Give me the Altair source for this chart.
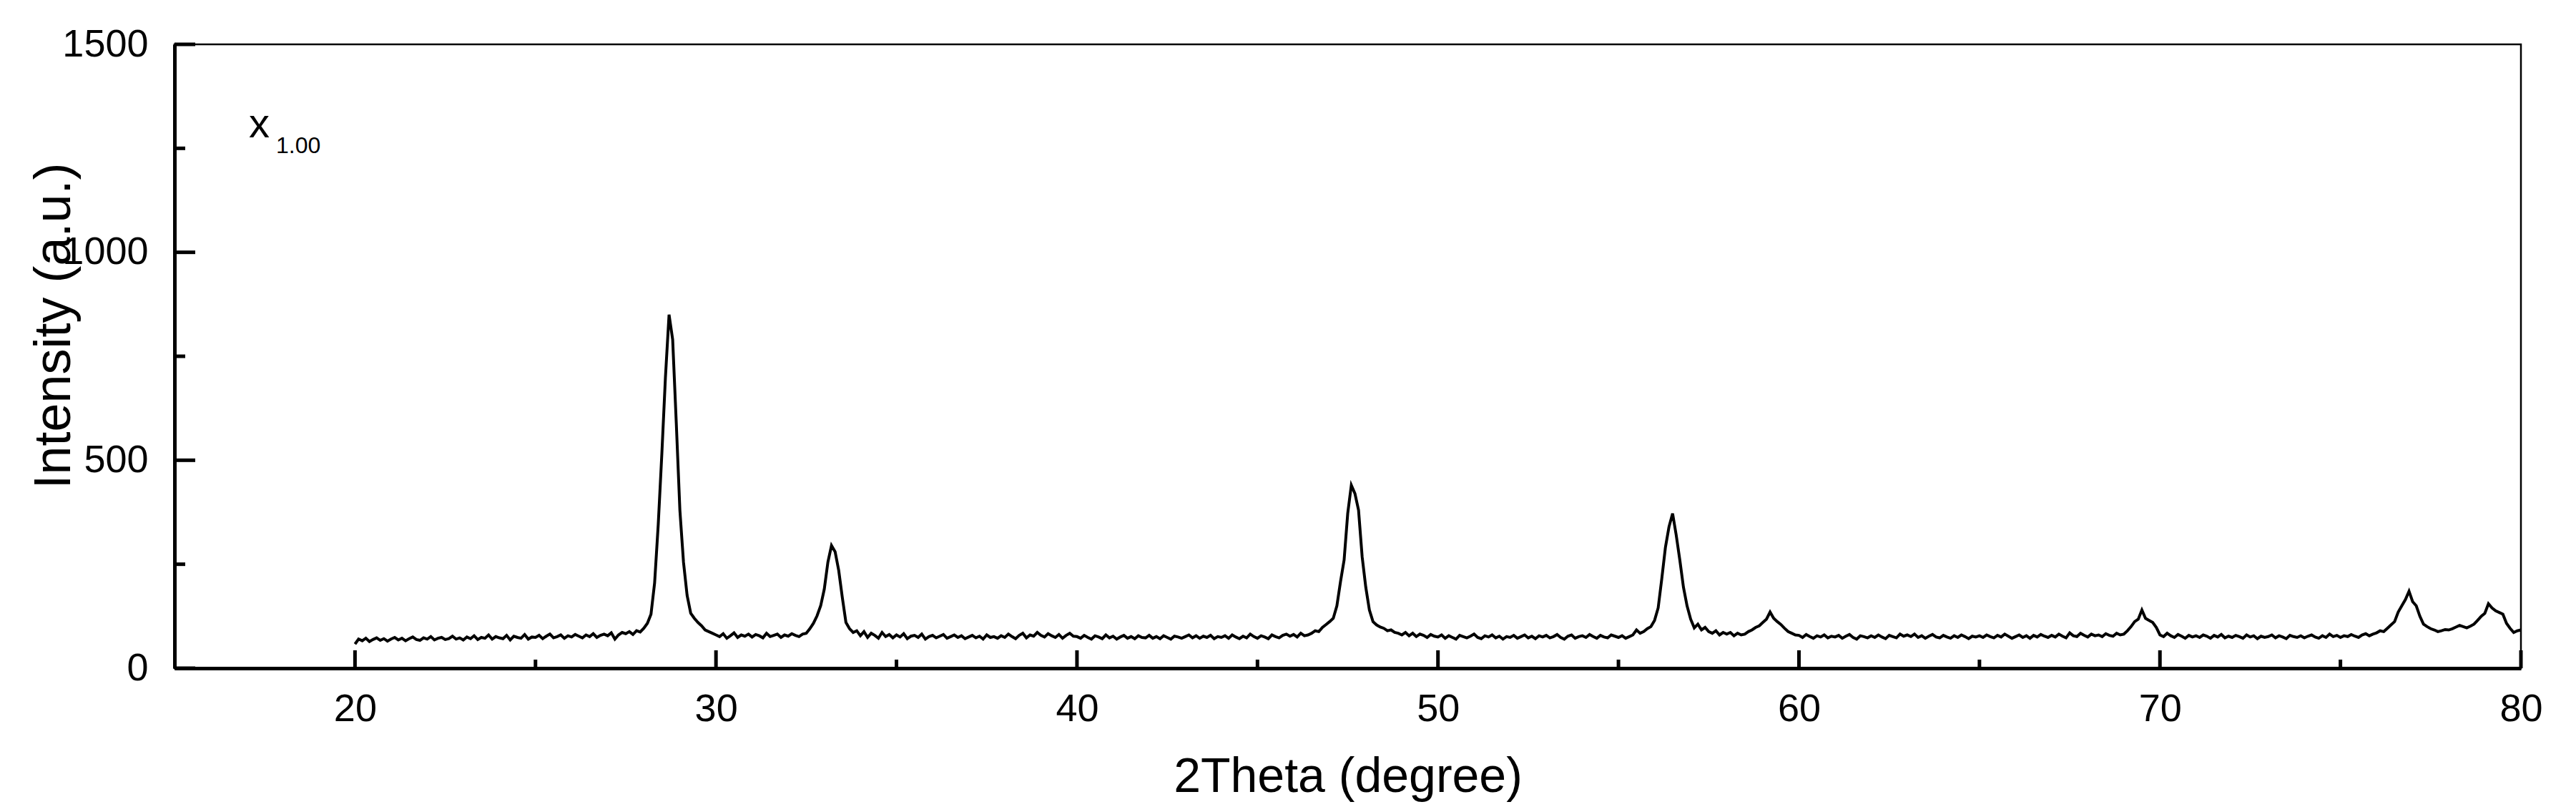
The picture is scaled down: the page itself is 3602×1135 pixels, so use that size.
import altair as alt
import pandas as pd

i20 = [58, 70, 66, 72, 64, 69, 73, 67, 71, 65,
       70, 74, 68, 72, 66, 71, 75, 69, 67, 73,
       70, 76, 68, 72, 74, 69, 71, 77, 70, 73,
       68, 75, 71, 78, 69, 74, 72, 80, 70, 76,
       73, 71, 79, 68, 77, 74, 72, 81, 70, 75,
       74, 79, 71, 77, 82, 73, 76, 80, 72, 78,
       75, 81, 77, 73, 80, 76, 83, 74, 79, 82,
       78, 85, 70, 80, 86, 83, 88, 81, 90, 87,
       96, 108, 130, 205, 345, 515, 700, 850, 790, 590,
       380, 255, 175, 132, 120, 110, 102, 92, 88, 84]
i30 = [80, 76, 83, 72, 78, 85, 74, 80, 77, 82,
       75, 81, 78, 73, 84, 76, 79, 82, 74, 80,
       77, 83, 79, 76, 82, 84, 95, 108, 126, 150,
       190, 255, 295, 280, 235, 170, 110, 95, 86, 90,
       78, 88, 74, 84, 79, 72, 86, 76, 81, 73,
       80, 75, 83, 71, 77, 79, 74, 82, 70, 76,
       79, 73, 77, 81, 72, 76, 80, 74, 78, 71,
       75, 79, 73, 77, 70, 80, 74, 76, 72, 78,
       74, 82, 76, 71, 79, 84, 73, 80, 77, 86,
       79, 75, 83, 78, 74, 81, 72, 79, 84, 77]
i40 = [76, 72, 79, 74, 70, 78, 75, 71, 80, 73,
       77, 70, 75, 79, 72, 76, 71, 78, 74, 73,
       79, 72, 76, 71, 78, 74, 70, 77, 75, 72,
       76, 80, 73, 78, 72, 77, 74, 79, 71, 76,
       74, 78, 72, 80, 75, 71, 77, 73, 82, 76,
       72, 78, 75, 71, 80, 76, 73, 79, 82, 77,
       81, 75, 84, 78, 80, 84, 90, 88, 98, 105,
       112, 120, 150, 208, 260, 372, 440, 420, 380, 268,
       195, 140, 112, 104, 99, 96, 90, 92, 86, 84,
       80, 86, 78, 84, 76, 82, 79, 74, 81, 77]
i50 = [75, 80, 72, 78, 74, 70, 79, 76, 73, 77,
       82, 74, 71, 78, 75, 80, 73, 77, 70, 76,
       74, 79, 72, 76, 80, 73, 77, 71, 78, 75,
       79, 73, 76, 81, 74, 70, 77, 80, 72, 76,
       78, 74, 81, 76, 72, 79, 75, 73, 80, 77,
       74, 78, 72, 76, 80, 92, 84, 88, 95, 100,
       115, 145, 215, 290, 340, 372, 320, 260, 195, 150,
       118, 97, 106, 92, 98, 88, 84, 90, 80, 86,
       82, 86, 78, 84, 80, 82, 88, 92, 98, 102,
       110, 118, 135, 120, 112, 105, 96, 88, 84, 80]
i60 = [79, 74, 81, 76, 72, 78, 75, 80, 73, 77,
       75, 79, 72, 77, 81, 74, 70, 78, 76, 73,
       78, 74, 80, 75, 71, 79, 76, 73, 82, 77,
       80, 76, 82, 74, 78, 72, 77, 81, 75, 73,
       79, 75, 72, 78, 74, 80, 76, 71, 77, 75,
       78, 74, 80, 76, 73, 79, 75, 82, 77, 72,
       76, 80, 74, 78, 72, 79, 75, 81, 77, 74,
       79, 75, 82, 77, 73, 85, 78, 76, 84, 79,
       75, 82, 78, 80, 76, 83, 79, 77, 84, 80,
       82, 90, 100, 112, 118, 140, 120, 115, 110, 98]
i70 = [80, 76, 84, 78, 74, 81, 77, 72, 79, 75,
       78, 74, 80, 77, 72, 79, 75, 81, 73, 77,
       74, 79, 76, 72, 80, 75, 78, 71, 77, 74,
       76, 80, 73, 78, 75, 71, 79, 76, 74, 78,
       73, 77, 80, 75, 72, 78, 74, 82, 76, 79,
       74, 78, 76, 81, 77, 74, 80, 83, 78, 82,
       85, 90, 88, 96, 104, 112, 135, 150, 165, 185,
       160, 150, 125, 106, 100, 95, 92, 88, 90, 93,
       92, 95, 99, 103, 100, 97, 101, 106, 115, 125,
       132, 155, 145, 138, 134, 130, 108, 96, 86, 90]
i80 = [92]

x_ticks_major = [20, 30, 40, 50, 60, 70, 80]
x_ticks_minor = [25, 35, 45, 55, 65, 75]
y_ticks_major = [0, 500, 1000, 1500]
y_ticks_minor = [250, 750, 1250]

rows = []
for start, seg in [(20, i20), (30, i30), (40, i40), (50, i50), (60, i60), (70, i70), (80, i80)]:
    for k, v in enumerate(seg):
        rows.append({"theta": round(start + 0.1 * k, 2), "intensity": v})
df = pd.DataFrame(rows)

W, H = 3281, 872
FONT = "Liberation Sans"
xs = alt.Scale(domain=[15, 80], nice=False, zero=False)
ys = alt.Scale(domain=[0, 1500], nice=False)

x_axis = alt.Axis(
    values=x_ticks_major, title="2Theta (degree)", ticks=False, tickSize=0,
    grid=False, domainWidth=5, domainColor="black", labelFontSize=54, labelPadding=30,
    labelFlush=False, labelFont=FONT, labelColor="black", format="d",
    titleFont=FONT, titleColor="black", titleFontWeight="normal",
    titleFontSize=68, titleX=W / 2, titleY=152,
    titleBaseline="middle", titleAlign="center")
y_axis = alt.Axis(
    values=y_ticks_major, title="Intensity (a.u.)", ticks=False, tickSize=0,
    grid=False, domainWidth=5, domainColor="black", labelFontSize=54, labelPadding=37,
    labelFlush=False, labelFont=FONT, labelColor="black", format="d",
    titleFont=FONT, titleColor="black", titleFontWeight="normal",
    titleFontSize=72, titleX=-169, titleY=H / 2 - 43,
    titleAngle=270, titleBaseline="middle", titleAlign="center")

line = alt.Chart(df).mark_line(color="black", strokeWidth=4).encode(
    x=alt.X("theta:Q", scale=xs, axis=x_axis),
    y=alt.Y("intensity:Q", scale=ys, axis=y_axis),
)

xmaj = alt.Chart(pd.DataFrame({"theta": x_ticks_major})).mark_rule(color="black", strokeWidth=5).encode(
    x=alt.X("theta:Q", scale=xs, axis=x_axis), y=alt.value(H), y2=alt.value(H - 25))
xmin = alt.Chart(pd.DataFrame({"theta": x_ticks_minor})).mark_rule(color="black", strokeWidth=5).encode(
    x=alt.X("theta:Q", scale=xs, axis=x_axis), y=alt.value(H), y2=alt.value(H - 12))
ymaj = alt.Chart(pd.DataFrame({"intensity": y_ticks_major})).mark_rule(color="black", strokeWidth=5).encode(
    y=alt.Y("intensity:Q", scale=ys, axis=y_axis), x=alt.value(0), x2=alt.value(29))
ymin = alt.Chart(pd.DataFrame({"intensity": y_ticks_minor})).mark_rule(color="black", strokeWidth=5).encode(
    y=alt.Y("intensity:Q", scale=ys, axis=y_axis), x=alt.value(0), x2=alt.value(15))

lab_x = alt.Chart(pd.DataFrame({"t": ["x"]})).mark_text(
    font=FONT, fontSize=58, align="left", baseline="alphabetic", color="black").encode(
    text="t:N", x=alt.value(104), y=alt.value(130))
lab_sub = alt.Chart(pd.DataFrame({"t": ["1.00"]})).mark_text(
    font=FONT, fontSize=32, align="left", baseline="alphabetic", color="black").encode(
    text="t:N", x=alt.value(142), y=alt.value(152))

chart = alt.layer(line, xmaj, xmin, ymaj, ymin, lab_x, lab_sub).properties(
    width=W, height=H,
    background="white",
    autosize=alt.AutoSizeParams(type="none"),
    padding={"left": 236, "top": 54, "right": 60, "bottom": 190},
).configure_view(stroke="black", strokeWidth=2.5)

chart.save("out.html", embed_options={"renderer": "svg", "actions": False})
